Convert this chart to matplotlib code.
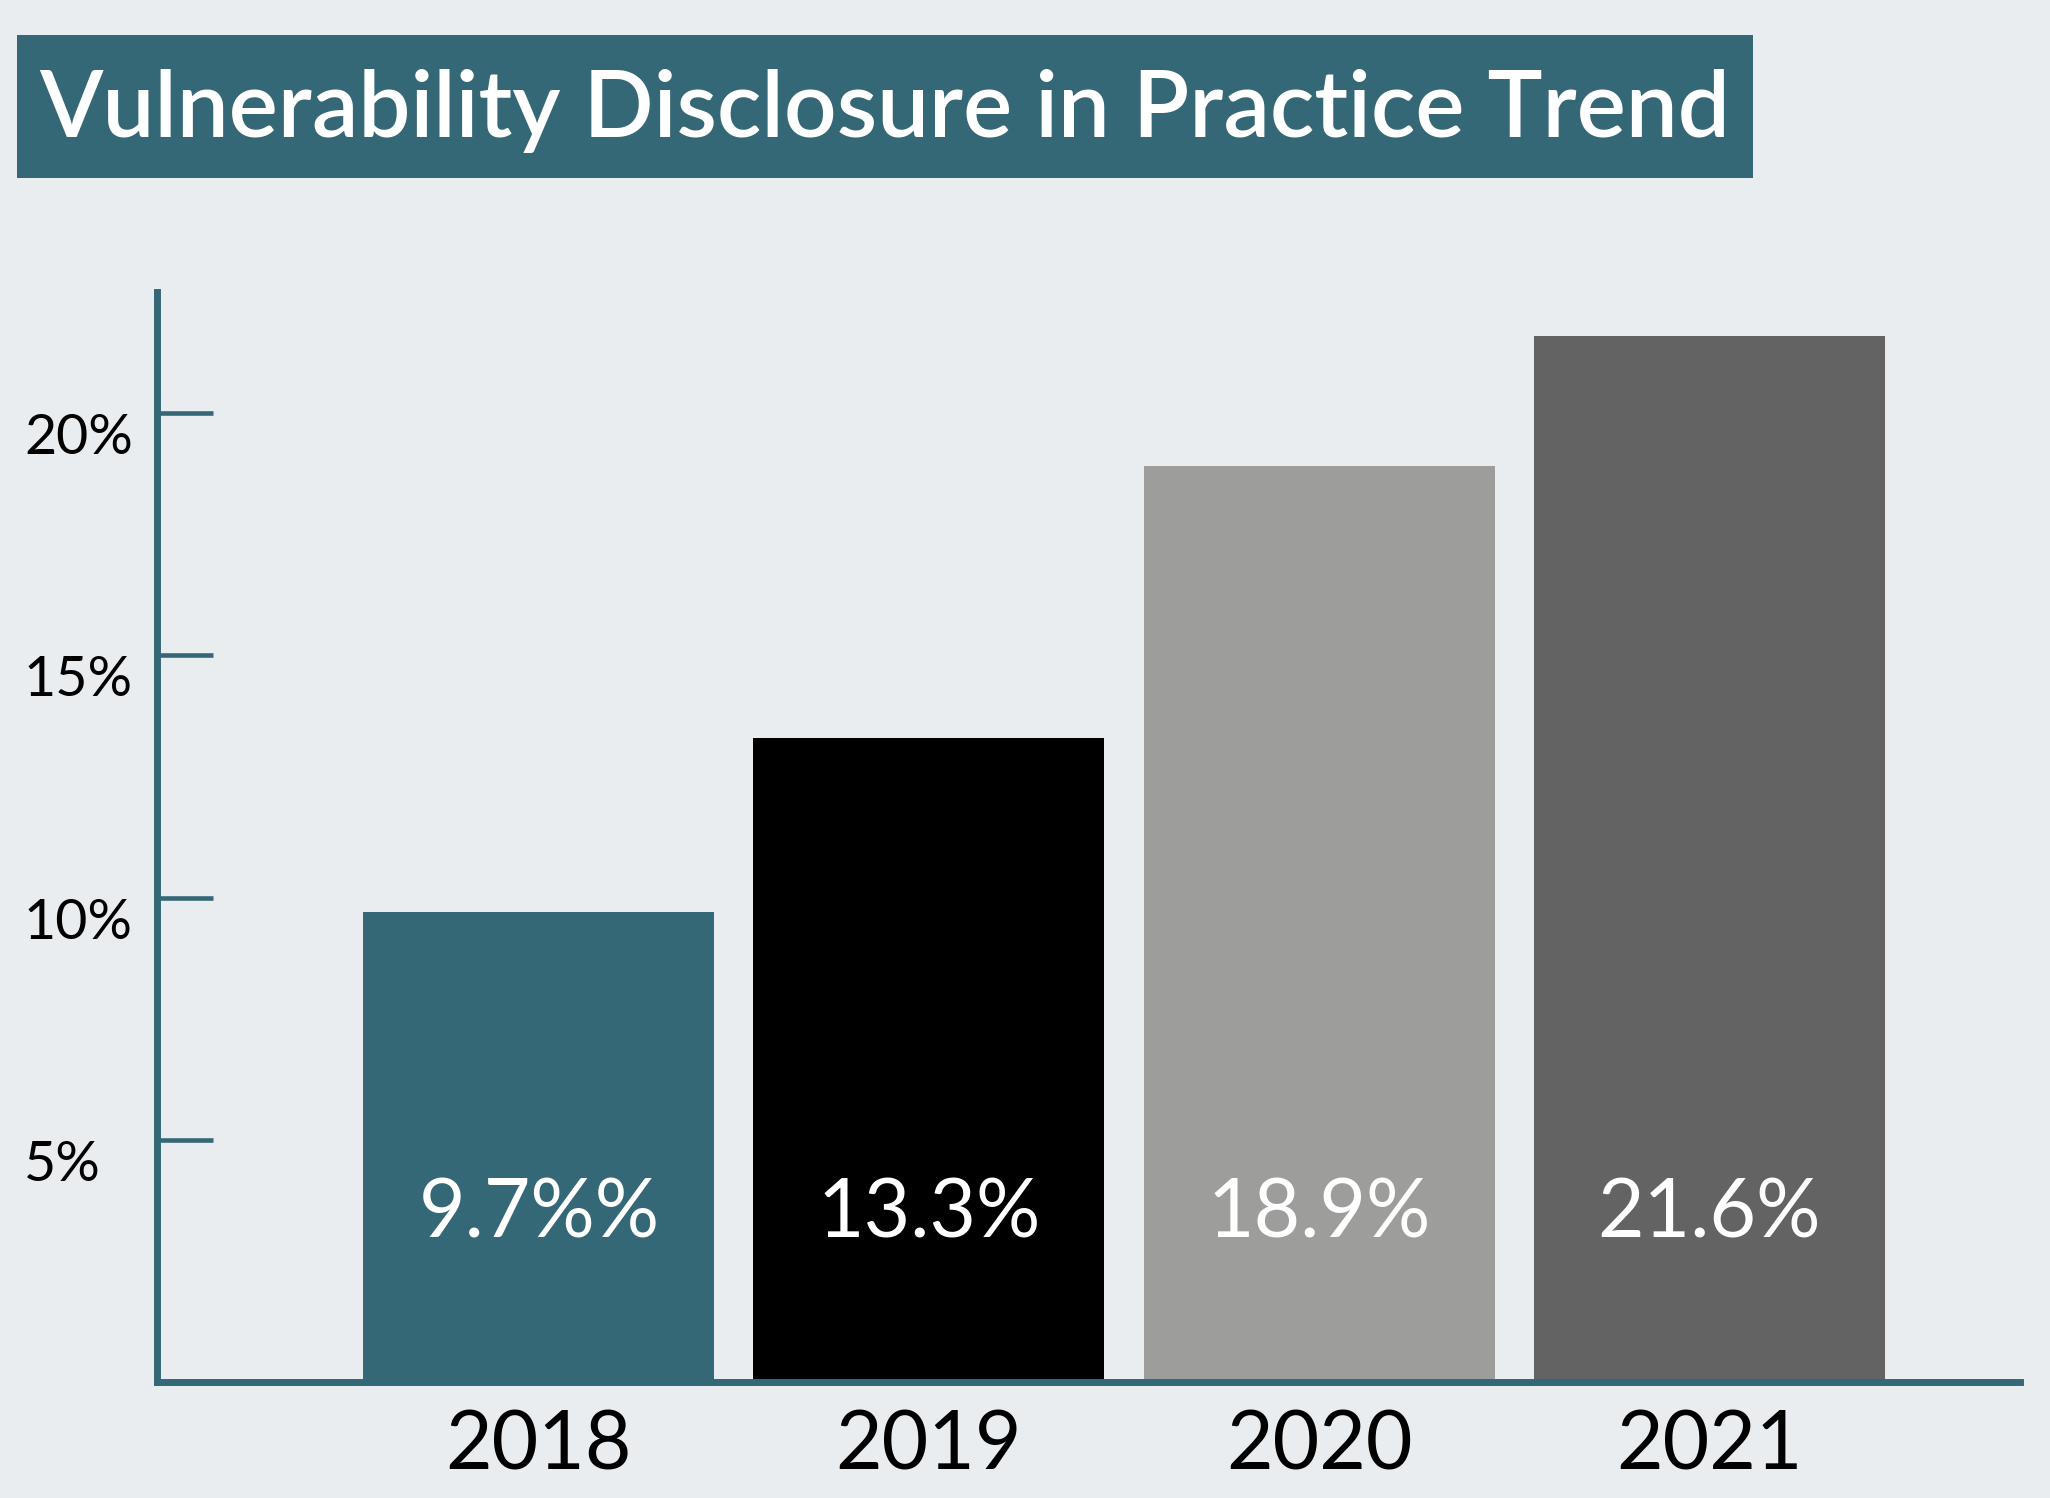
import matplotlib
matplotlib.use("Agg")
import matplotlib.pyplot as plt
from matplotlib.patches import Rectangle
import matplotlib.transforms as mtransforms

# données
annees = ["2018", "2019", "2020", "2021"]
valeurs = [9.7, 13.3, 18.9, 21.6]
etiquettes = ["9.7%%", "13.3%", "18.9%", "21.6%"]
couleurs = ["#356876", "#000000", "#9d9d9b", "#636363"]
graduations = [5, 10, 15, 20]
titre = "Vulnerability Disclosure in Practice Trend"

fond = "#e9edf0"
teal = "#356876"

plt.rcParams["font.family"] = ["Lato", "DejaVu Sans"]

fig = plt.figure(figsize=(20.5, 14.98), dpi=100)
fig.patch.set_facecolor(fond)

# bandeau du titre
W, H = 2050, 1498
fig.patches.append(Rectangle((17 / W, 1 - 178 / H), (1753 - 17) / W, (178 - 35) / H,
                             transform=fig.transFigure, facecolor=teal, edgecolor="none"))
fig.text(39 / W, 1 - 137 / H, titre, color="white", fontsize=66.6,
         fontweight="semibold", ha="left", va="baseline")

ax = fig.add_axes([157 / W, 116 / H, (2020 - 157) / W, (1382 - 292) / H])
ax.set_facecolor(fond)

x = list(range(len(annees)))
ax.bar(x, valeurs, width=0.9, color=couleurs)

ax.set_xlim(-0.979, 3.797)
ax.set_ylim(0, 22.5)

for s in ["top", "right"]:
    ax.spines[s].set_visible(False)
for s in ["left", "bottom"]:
    ax.spines[s].set_color(teal)
    ax.spines[s].set_linewidth(5)

ax.set_yticks(graduations)
ax.set_yticklabels([])
ax.tick_params(axis="y", direction="in", length=40, width=3.3, color=teal)
ax.set_xticks([])

# étiquettes de l'axe y, alignées à gauche sous chaque graduation
trans = mtransforms.blended_transform_factory(fig.transFigure, ax.transData)
for g in graduations:
    ax.text(24 / W, g, "%d%%" % g, transform=trans, fontsize=40,
            ha="left", va="top", color="black")

# valeurs dans les barres et années
for i in x:
    ax.text(i, 3.45, etiquettes[i], color="white", fontsize=58,
            ha="center", va="center")
    ax.text(i, -1.33, annees[i], color="black", fontsize=58,
            ha="center", va="center", clip_on=False)

fig.savefig("out.png", dpi=100, facecolor=fond)
